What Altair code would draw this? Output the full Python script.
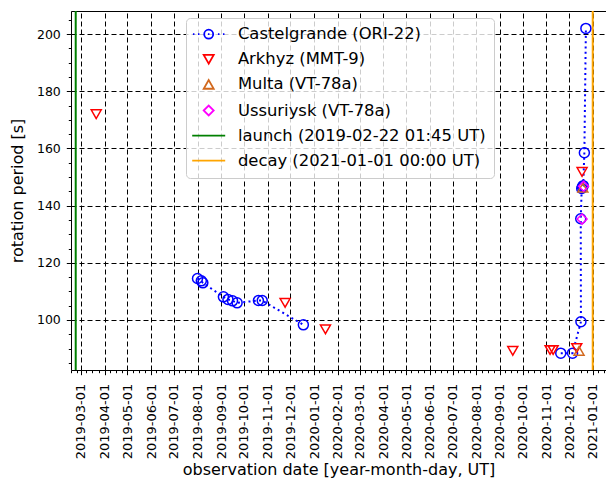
import json
import altair as alt
import pandas as pd

FONT = "DejaVu Sans"

# ---------------- data ----------------
castel_dates = ["2019-08-01", "2019-08-06", "2019-08-08", "2019-09-04", "2019-09-10",
                "2019-09-16", "2019-09-22", "2019-10-20", "2019-10-25", "2019-12-18",
                "2020-11-20", "2020-12-05T12:00", "2020-12-16T12:00", "2020-12-16T06:00",
                "2020-12-17T12:00", "2020-12-18T12:00", "2020-12-19T12:00", "2020-12-21",
                "2020-12-23"]
castel_values = [114.5, 113.7, 113.0, 108.1, 107.2, 106.7, 106.0, 106.8, 106.8, 98.3,
                 88.4, 88.4, 99.4, 135.4, 146.0, 146.6, 147.0, 158.5, 202.0]
castel_segment = [1] * 10 + [2] * 9

arkhyz_dates = ["2019-03-21", "2019-11-24", "2020-01-16", "2020-09-18", "2020-11-06",
                "2020-11-10", "2020-12-11", "2020-12-18"]
arkhyz_values = [172.0, 106.0, 96.7, 89.2, 89.5, 89.5, 90.2, 151.8]

multa_dates = ["2020-12-14", "2020-12-19"]
multa_values = [89.2, 146.3]

ussur_dates = ["2020-12-18", "2020-12-20"]
ussur_values = [135.3, 146.8]

event_names = ["launch (2019-02-22 01:45 UT)", "decay (2021-01-01 00:00 UT)"]
event_dates = ["2019-02-22T01:45", "2021-01-01T00:00"]

marker_names = ["Castelgrande (ORI-22)", "Arkhyz (MMT-9)", "Multa (VT-78a)",
                "Ussuriysk (VT-78a)"]
series_names = marker_names + event_names
series_colors = ["#0000ff", "#ff0000", "#d2691e", "#ff00ff", "#008000", "#ffa500"]
marker_shapes = ["circle", "triangle-down", "triangle-up", "diamond"]

y_major = [100, 120, 140, 160, 180, 200]
y_minor = [v for v in range(85, 210, 5) if v % 20 != 0]
minor_days = [8, 16, 24]


def iso(s):
    return s + ("T00:00:00Z" if len(s) == 10 else ":00Z")


# ---------------- tables ----------------
castel_df = pd.DataFrame({
    "date": [iso(d) for d in castel_dates],
    "value": castel_values,
    "segment": castel_segment,
    "seq": list(range(len(castel_dates))),
})

rows = []
for name, dates, vals in [(marker_names[0], castel_dates, castel_values),
                          (marker_names[1], arkhyz_dates, arkhyz_values),
                          (marker_names[2], multa_dates, multa_values),
                          (marker_names[3], ussur_dates, ussur_values)]:
    for d, v in zip(dates, vals):
        rows.append({"series": name, "marker": name, "date": iso(d), "value": v})
points_df = pd.DataFrame(rows)

events_df = pd.DataFrame({"series": event_names, "date": [iso(d) for d in event_dates]})

# ---------------- ticks ----------------
x_start = pd.Timestamp("2019-02-15T21:00")
x_end = pd.Timestamp("2021-01-18T10:00")
months = pd.date_range("2019-02-01", "2021-01-01", freq="MS")
month_ticks = [alt.DateTime(year=int(m.year), month=int(m.month), date=1, utc=True)
               for m in months if x_start <= m <= x_end]
minor_ticks = []
for m in months:
    for d in minor_days:
        t = pd.Timestamp(year=m.year, month=m.month, day=d)
        if x_start <= t <= x_end:
            minor_ticks.append(alt.DateTime(year=int(t.year), month=int(t.month), date=int(t.day), utc=True))

# ---------------- scales ----------------
x_scale = alt.Scale(type="utc", domain=[
    alt.DateTime(year=2019, month=2, date=15, hours=21, utc=True),
    alt.DateTime(year=2021, month=1, date=18, hours=10, utc=True)])
y_scale = alt.Scale(domain=[82.5, 208.1], zero=False, nice=False)
color_scale = alt.Scale(domain=series_names, range=series_colors)
shape_scale = alt.Scale(domain=marker_names, range=marker_shapes)

grid_style = dict(grid=True, gridColor="black", gridDash=[5, 3], gridWidth=1, gridOpacity=1)

main_x_axis = alt.Axis(values=month_ticks, format="%Y-%m-%d", labelAngle=270,
                       labelFont=FONT, labelFontSize=13, labelColor="black",
                       labelPadding=8.5, labelFlush=False, labelOverlap=False, labelBound=False,
                       tickSize=4.7, tickColor="black", tickWidth=1,
                       domainColor="black", domainWidth=1, orient="bottom",
                       title="observation date [year-month-day, UT]", titleFont=FONT,
                       titleFontSize=16, titleFontWeight="normal", titleColor="black",
                       titlePadding=3, **grid_style)
main_y_axis = alt.Axis(values=y_major, orient="left", labelFont=FONT, labelFontSize=12.5,
                       labelColor="black", labelPadding=6, labelFlush=False,
                       tickSize=4.7, tickColor="black", tickWidth=1,
                       domainColor="black", domainWidth=1,
                       title="rotation period [s]", titleFont=FONT, titleFontSize=16,
                       titleFontWeight="normal", titleColor="black", titlePadding=11,
                       **grid_style)
top_axis = alt.Axis(orient="top", labels=False, ticks=False, grid=False, domain=True,
                    domainColor="black", domainWidth=1, title=None)
minor_x_axis = alt.Axis(orient="bottom", values=minor_ticks, labels=False, grid=False,
                        domain=False, tickSize=2.7, tickColor="black", tickWidth=1, title=None)
minor_y_axis = alt.Axis(orient="left", values=y_minor, labels=False, grid=False,
                        domain=False, tickSize=2.7, tickColor="black", tickWidth=1, title=None)

# ---------------- legend ----------------
castel_path = ("M0.9,0A0.9,0.9,0,1,1,-0.9,0A0.9,0.9,0,1,1,0.9,0Z"
               "M-3.15,0L-2.85,0M-2.15,0L-1.85,0M-0.15,0L0.15,0M1.85,0L2.15,0M2.85,0L3.15,0")
line_path = "M-3.3,0L3.3,0"
legend_shapes = [castel_path, "triangle-down", "triangle-up", "diamond", line_path, line_path]
idx = "indexof(" + json.dumps(series_names) + ", datum.value)"
legend = alt.Legend(
    title=None, orient="none", legendX=115, legendY=7, padding=8,
    fillColor="rgba(255,255,255,0.8)", strokeColor="#cccccc", cornerRadius=4,
    labelFont=FONT, labelFontSize=16.4, labelColor="black", labelLimit=500,
    rowPadding=8.1, symbolSize=100, symbolOffset=6.5, labelOffset=21,
    symbolFillColor="transparent", symbolStrokeWidth=1.8,
    symbolType=alt.ExprRef(expr=json.dumps(legend_shapes) + "[" + idx + "]"),
)

# ---------------- layers ----------------
points = alt.Chart(points_df).mark_point(filled=False, size=100, strokeWidth=1.5, opacity=1).encode(
    x=alt.X("date:T", scale=x_scale, axis=top_axis),
    y=alt.Y("value:Q", scale=y_scale, axis=None),
    color=alt.Color("series:N", scale=color_scale, legend=legend),
    shape=alt.Shape("marker:N", scale=shape_scale, legend=None),
)

rules = alt.Chart(events_df).mark_rule(strokeWidth=2).encode(
    x=alt.X("date:T", scale=x_scale, axis=main_x_axis),
    color=alt.Color("series:N", scale=color_scale, legend=legend),
)

line = alt.Chart(castel_df).mark_line(color="#0000ff", strokeWidth=2, strokeDash=[2, 3.3]).encode(
    x=alt.X("date:T", scale=x_scale, axis=None),
    y=alt.Y("value:Q", scale=y_scale, axis=main_y_axis),
    detail="segment:N",
    order="seq:Q",
)

minor = alt.Chart(points_df).mark_point(opacity=0).encode(
    x=alt.X("date:T", scale=x_scale, axis=minor_x_axis),
    y=alt.Y("value:Q", scale=y_scale, axis=minor_y_axis),
)

chart = alt.layer(rules, line, points, minor).resolve_axis(
    x="independent", y="independent"
).properties(
    width=535, height=359,
    padding={"left": 71, "top": 11, "right": 0, "bottom": 113},
    autosize=alt.AutoSizeParams(type="none"),
    background="white",
).configure_view(stroke=None).configure(font=FONT)

chart.save("out.html", embed_options={"renderer": "svg", "actions": False})
